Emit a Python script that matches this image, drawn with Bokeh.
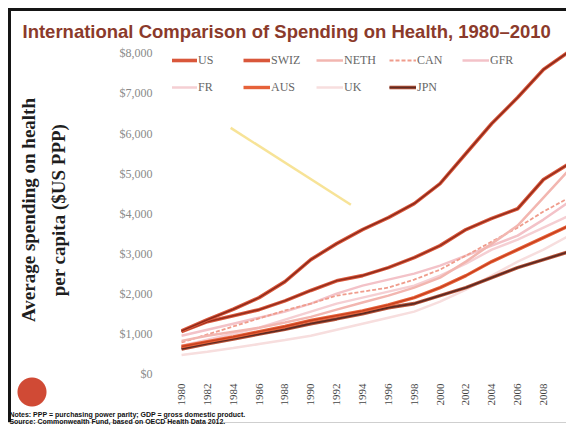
import math
from bokeh.plotting import figure
from bokeh.models import (ColumnDataSource, Range1d, FixedTicker, NumeralTickFormatter,
                          Legend, LegendItem, Title)
from bokeh.embed import file_html
from bokeh.resources import INLINE

# ---------------- data ----------------
years = [1980, 1982, 1984, 1986, 1988, 1990, 1992, 1994, 1996, 1998, 2000, 2002, 2004, 2006, 2008, 2010]
us   = [1070, 1350, 1610, 1900, 2300, 2850, 3250, 3600, 3900, 4250, 4750, 5500, 6250, 6900, 7600, 8050]
swiz = [1050, 1300, 1450, 1600, 1820, 2080, 2320, 2450, 2650, 2900, 3200, 3600, 3880, 4120, 4850, 5250]
neth = [820, 950, 1050, 1150, 1280, 1420, 1600, 1780, 1950, 2150, 2400, 2800, 3250, 3700, 4400, 5100]
can  = [780, 980, 1180, 1380, 1580, 1750, 1950, 2050, 2150, 2350, 2600, 2950, 3300, 3650, 4050, 4400]
gfr  = [950, 1100, 1250, 1400, 1550, 1750, 2000, 2200, 2350, 2500, 2700, 2950, 3200, 3450, 3850, 4300]
fr   = [700, 850, 1000, 1150, 1350, 1550, 1750, 1900, 2050, 2200, 2450, 2750, 3100, 3350, 3650, 3950]
aus  = [680, 800, 920, 1050, 1180, 1330, 1450, 1570, 1720, 1900, 2150, 2450, 2800, 3100, 3400, 3700]
uk   = [470, 550, 640, 740, 840, 950, 1100, 1250, 1400, 1550, 1800, 2100, 2450, 2800, 3100, 3450]
jpn  = [620, 750, 870, 990, 1110, 1250, 1370, 1500, 1650, 1750, 1950, 2150, 2400, 2650, 2850, 3050]

tick_years = [1980, 1982, 1984, 1986, 1988, 1990, 1992, 1994, 1996, 1998, 2000, 2002, 2004, 2006, 2008]
y_ticks = [0, 1000, 2000, 3000, 4000, 5000, 6000, 7000, 8000]

# stray highlighter stroke on the slide
mark_x = [1983.8, 1993.1]
mark_y = [6140, 4220]

title_text = "International Comparison of Spending on Health, 1980\u20132010"
ylabel_text = "Average spending on health\nper capita ($US PPP)"
notes_text = ("Notes: PPP = purchasing power parity; GDP = gross domestic product.\n"
              "Source: Commonwealth Fund, based on OECD Health Data 2012.")

# ---------------- figure ----------------
p = figure(width=566, height=425, output_backend="svg", toolbar_location=None,
           x_range=Range1d(1979.3, 2009.78), y_range=Range1d(-20, 8199),
           min_border_left=172, min_border_right=0, min_border_top=45, min_border_bottom=46)
# slide frame and round logo (decoration drawn behind a transparent canvas border)
p.styles = {
    "background": (
        "linear-gradient(#151515,#151515) 8px 8px / 3px 414px no-repeat, "
        "linear-gradient(#151515,#151515) 8px 8px / 558px 3px no-repeat, "
        "linear-gradient(#cfcfcf,#cfcfcf) 8px 422px / 558px 1px no-repeat, "
        "radial-gradient(circle 15px at 32px 392px, #d04a35 14px, rgba(255,255,255,0) 15px) no-repeat, "
        "#ffffff"
    )
}
p.border_fill_color = None
p.background_fill_color = "white"
p.xgrid.visible = False
p.ygrid.visible = False
p.outline_line_color = None

src = ColumnDataSource(dict(year=years, us=us, swiz=swiz, neth=neth, can=can, gfr=gfr,
                            fr=fr, aus=aus, uk=uk, jpn=jpn))

# highlighter mark
p.line(mark_x, mark_y, line_color="#f6e08c", line_width=2.5, line_alpha=0.9)

# pale lines
r_uk = p.line("year", "uk", source=src, line_color="#f7dede", line_width=2.5)
r_fr = p.line("year", "fr", source=src, line_color="#f5cfd3", line_width=2.5)
r_gfr = p.line("year", "gfr", source=src, line_color="#f3c2c8", line_width=2.5)
r_can = p.line("year", "can", source=src, line_color="#ef9c8c", line_width=1.8, line_dash="4 2")
r_neth = p.line("year", "neth", source=src, line_color="#f2b6b0", line_width=2.5)

# strong lines (double stroke look)
r_jpn_o = p.line("year", "jpn", source=src, line_color="#b9553a", line_width=3.6)
r_jpn_i = p.line("year", "jpn", source=src, line_color="#5e2a22", line_width=1.8)
r_aus_o = p.line("year", "aus", source=src, line_color="#e6623a", line_width=3.4)
r_aus_i = p.line("year", "aus", source=src, line_color="#c8401e", line_width=1.4)
r_swiz_o = p.line("year", "swiz", source=src, line_color="#d9573b", line_width=3.6)
r_swiz_i = p.line("year", "swiz", source=src, line_color="#962e1c", line_width=1.6)
r_us_o = p.line("year", "us", source=src, line_color="#d9573b", line_width=3.6)
r_us_i = p.line("year", "us", source=src, line_color="#8e2a1a", line_width=1.6)

items = [
    LegendItem(label="US", renderers=[r_us_o]),
    LegendItem(label="SWIZ", renderers=[r_swiz_o]),
    LegendItem(label="NETH", renderers=[r_neth]),
    LegendItem(label="CAN", renderers=[r_can]),
    LegendItem(label="GFR", renderers=[r_gfr]),
    LegendItem(label="FR", renderers=[r_fr]),
    LegendItem(label="AUS", renderers=[r_aus_o]),
    LegendItem(label="UK", renderers=[r_uk]),
    LegendItem(label="JPN", renderers=[r_jpn_o, r_jpn_i]),
]
legend = Legend(items=items, orientation="horizontal", ncols=5, location=(-2, 277),
                margin=0, padding=0, spacing=7, glyph_width=27, glyph_height=20,
                label_standoff=1, label_height=20, label_width=38,
                label_text_font="Liberation Serif", label_text_font_size="12px",
                label_text_color="#666666", border_line_color=None,
                background_fill_alpha=0)
p.add_layout(legend)

# axes
p.xaxis.ticker = FixedTicker(ticks=tick_years)
p.xaxis.major_label_orientation = math.pi / 2
p.xaxis.major_label_text_font = "Liberation Serif"
p.xaxis.major_label_text_font_size = "11px"
p.xaxis.major_label_text_color = "#444444"
p.xaxis.major_label_standoff = 3
p.xaxis.axis_line_color = None
p.xaxis.major_tick_line_color = None
p.xaxis.minor_tick_line_color = None

p.yaxis.ticker = FixedTicker(ticks=y_ticks)
p.yaxis.formatter = NumeralTickFormatter(format="$0,0")
p.yaxis.major_label_text_font = "Liberation Serif"
p.yaxis.major_label_text_font_size = "12px"
p.yaxis.major_label_text_color = "#8a8a8a"
p.yaxis.major_label_standoff = 14
p.yaxis.axis_line_color = None
p.yaxis.major_tick_line_color = None
p.yaxis.minor_tick_line_color = None
p.yaxis.axis_label = ylabel_text
p.yaxis.axis_label_text_font = "Liberation Serif"
p.yaxis.axis_label_text_font_style = "bold"
p.yaxis.axis_label_text_font_size = "19px"
p.yaxis.axis_label_text_color = "#1e1e1e"
p.yaxis.axis_label_text_line_height = 1.4
p.yaxis.axis_label_standoff = 48

# title
p.add_layout(Title(text=title_text, align="left", offset=-150, standoff=8,
                   text_font="Liberation Sans", text_font_style="bold",
                   text_font_size="18.5px", text_color="#8b3a2b"), "above")

# notes below the axis
p.add_layout(Title(text=notes_text, align="right", offset=321, standoff=0,
                   text_font="Liberation Sans", text_font_style="bold",
                   text_font_size="7px", text_line_height=1.1,
                   text_color="#111111"), "below")

open("out.html", "w").write(file_html(p, INLINE))
